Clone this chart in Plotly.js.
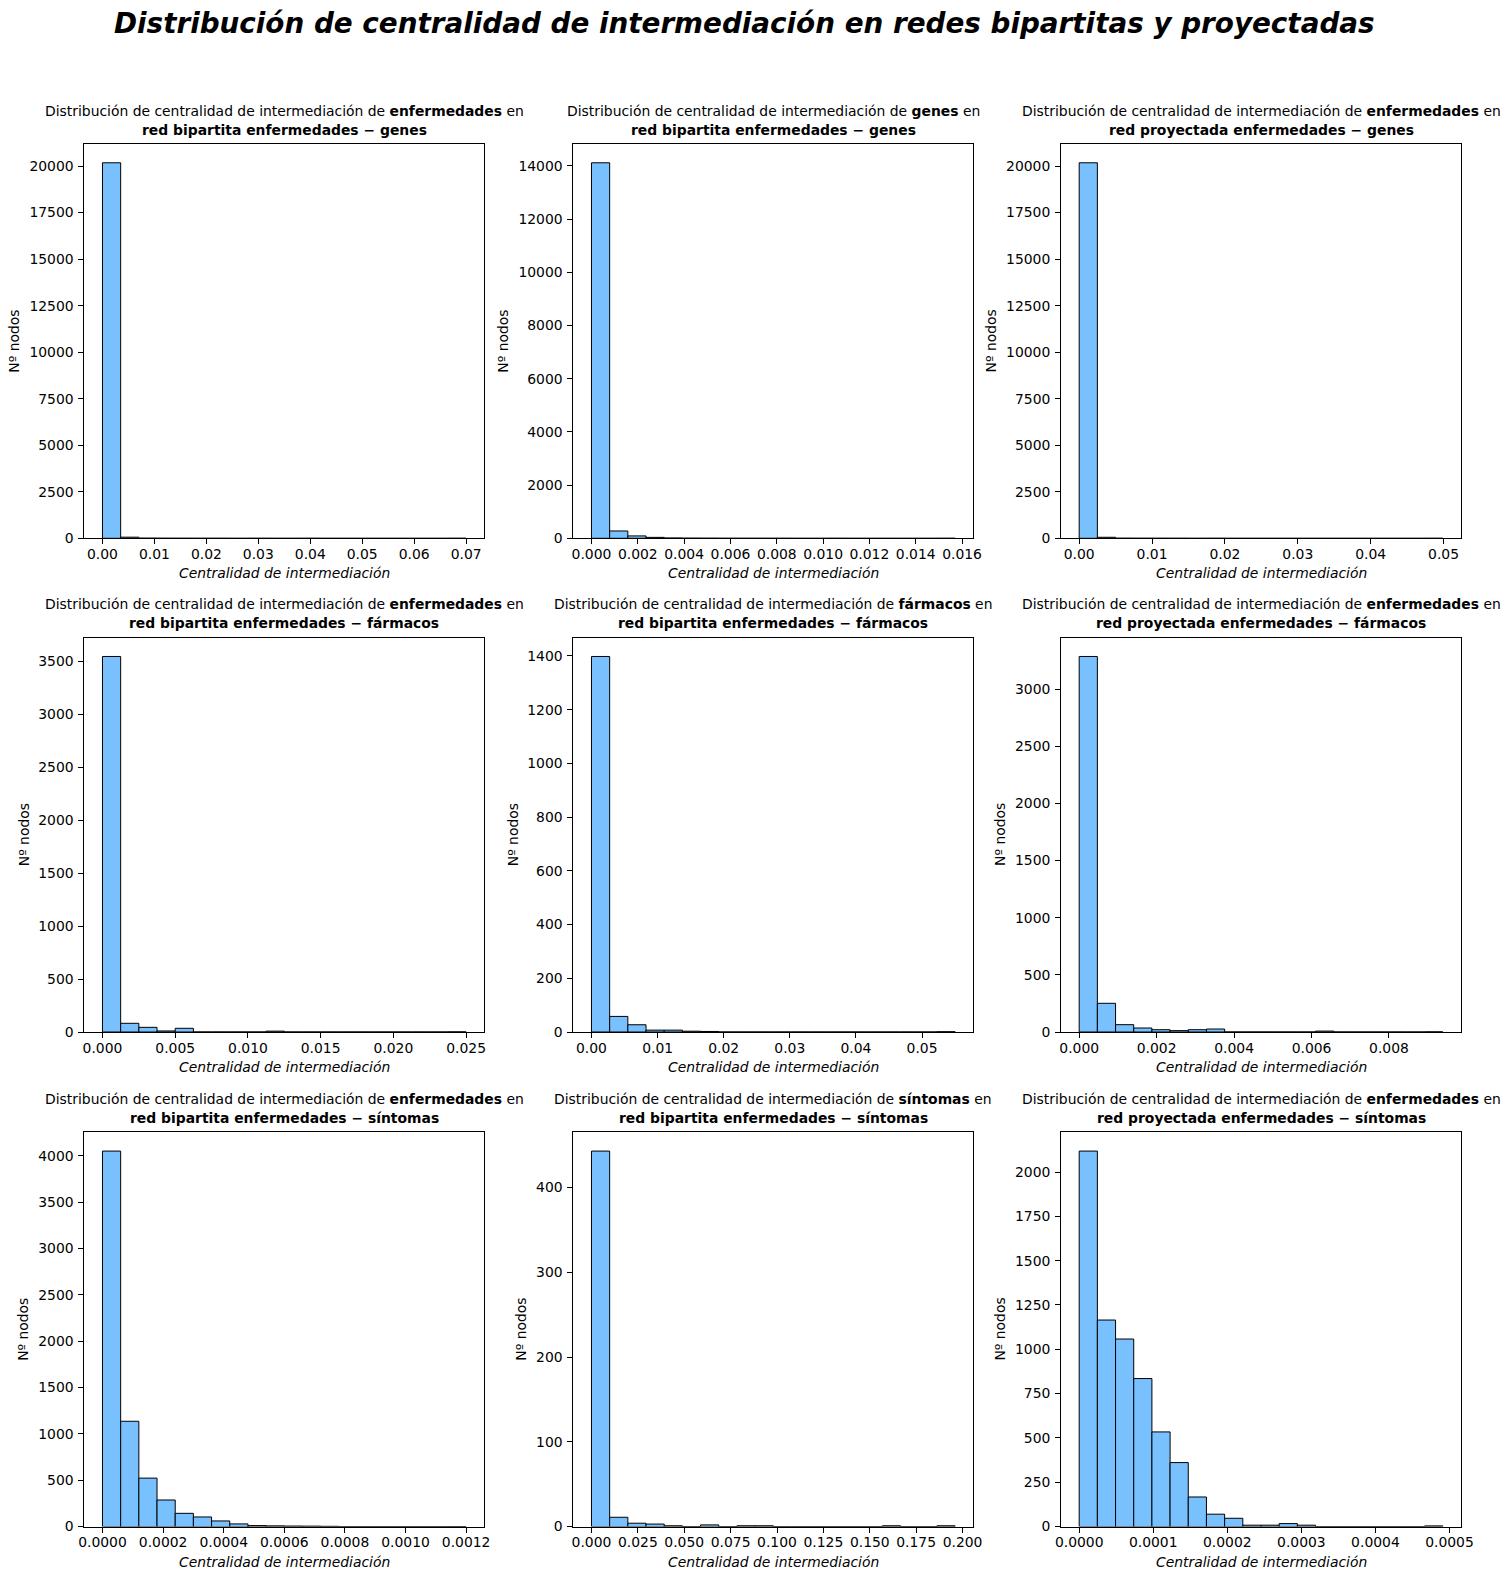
<!DOCTYPE html>
<html>
<head>
<meta charset="utf-8">
<script src="https://cdn.plot.ly/plotly-3.0.1.min.js"></script>
<style>html,body{margin:0;padding:0;background:#fff;}#chart{width:1511px;height:1580px;}</style>
</head>
<body>
<div id="chart"></div>
<script>
// ---- Data ----
const figTitle = "Distribución de centralidad de intermediación en redes bipartitas y proyectadas";
const nodeTypes = ["enfermedades", "genes", "enfermedades", "enfermedades", "fármacos", "enfermedades", "enfermedades", "síntomas", "enfermedades"];
const networks = ["red bipartita enfermedades − genes", "red bipartita enfermedades − genes", "red proyectada enfermedades − genes",
                  "red bipartita enfermedades − fármacos", "red bipartita enfermedades − fármacos", "red proyectada enfermedades − fármacos",
                  "red bipartita enfermedades − síntomas", "red bipartita enfermedades − síntomas", "red proyectada enfermedades − síntomas"];
// upper edge of the last bin (lower edge is 0), 20 bins each
const binMax = [0.070, 0.0157, 0.0499, 0.025, 0.055, 0.00939, 0.0012, 0.196, 0.000491];
const counts1 = [20175, 60, 8, 4, 2, 1, 1, 0, 1, 0, 0, 1, 0, 0, 0, 0, 0, 0, 0, 1];
const counts2 = [14115, 275, 90, 35, 12, 6, 4, 2, 1, 1, 1, 0, 0, 1, 0, 0, 0, 0, 0, 1];
const counts3 = [20175, 55, 6, 3, 2, 1, 0, 1, 0, 0, 0, 0, 0, 0, 0, 0, 0, 0, 0, 1];
const counts4 = [3545, 82, 44, 10, 35, 0, 0, 0, 0, 8, 0, 0, 0, 0, 0, 0, 0, 0, 0, 1];
const counts5 = [1398, 58, 27, 7, 7, 3, 2, 0, 0, 0, 0, 0, 0, 0, 0, 0, 0, 0, 0, 1];
const counts6 = [3285, 251, 64, 35, 20, 12, 20, 26, 0, 0, 0, 0, 0, 8, 0, 0, 0, 0, 0, 1];
const counts7 = [4050, 1136, 523, 287, 143, 104, 61, 29, 11, 8, 6, 5, 3, 0, 0, 0, 0, 0, 0, 1];
const counts8 = [443, 11, 4, 3, 1, 0, 2, 0, 1, 1, 0, 0, 0, 0, 0, 0, 1, 0, 0, 1];
const counts9 = [2118, 1165, 1058, 835, 534, 361, 167, 70, 47, 8, 8, 17, 8, 0, 0, 0, 0, 0, 0, 4];
const allCounts = [counts1, counts2, counts3, counts4, counts5, counts6, counts7, counts8, counts9];
// tick labels
const xTickStep = [0.01, 0.002, 0.01, 0.005, 0.01, 0.002, 0.0002, 0.025, 0.0001];
const xTickFormat = [".2f", ".3f", ".2f", ".3f", ".2f", ".3f", ".4f", ".3f", ".4f"];
const yTickStep = [2500, 2000, 2500, 500, 200, 500, 500, 100, 250];
const xLabel = "Centralidad de intermediación";
const yLabel = "Nº nodos";

// ---- Layout geometry (px) ----
const W = 1511, H = 1580;
const colLeft = [84.3, 573.3, 1061];
const rowTop = [144, 637.7, 1132.3];
const PW = 400, PH = 394.3;
const FONT = "DejaVu Sans";
const barColor = "#79c1fe";

const traces = [];
const layout = {
  width: W, height: H,
  margin: {l: 0, r: 0, t: 0, b: 0},
  paper_bgcolor: "#fff", plot_bgcolor: "#fff",
  showlegend: false,
  font: {family: FONT, size: 13.9, color: "#000"},
  annotations: []
};

for (let k = 0; k < 9; k++) {
  const r = Math.floor(k / 3), c = k % 3;
  const suf = k === 0 ? "" : String(k + 1);
  const L = colLeft[c], T = rowTop[r];
  const R = binMax[k], bw = R / 20;
  const cnt = allCounts[k];
  const xs = cnt.map((_, i) => (i + 0.5) * bw);
  traces.push({
    type: "bar", x: xs, y: cnt, width: cnt.map(() => bw),
    xaxis: "x" + suf, yaxis: "y" + suf,
    marker: {color: barColor, line: {color: "#000", width: 1}},
    hoverinfo: "x+y"
  });
  const maxC = Math.max(...cnt);
  const axCommon = {
    showline: true, mirror: true, linecolor: "#000", linewidth: 1,
    ticks: "outside", ticklen: 4.9, tickwidth: 1, tickcolor: "#000",
    showgrid: false, zeroline: false,
    tickfont: {family: FONT, size: 13.9, color: "#000"}
  };
  layout["xaxis" + suf] = Object.assign({}, axCommon, {
    domain: [L / W, (L + PW) / W],
    anchor: "y" + suf,
    range: [-0.05 * R, 1.05 * R],
    tick0: 0, dtick: xTickStep[k], tickformat: xTickFormat[k],
    ticklabelstandoff: -2
  });
  layout["yaxis" + suf] = Object.assign({}, axCommon, {
    domain: [1 - (T + PH) / H, 1 - T / H],
    anchor: "x" + suf,
    range: [0, 1.05 * maxC],
    tick0: 0, dtick: yTickStep[k], tickformat: "d",
    ticklabelstandoff: 2
  });
  const cx = (L + PW / 2) / W;
  // subplot title (two lines)
  layout.annotations.push({
    xref: "paper", yref: "paper", x: cx, y: 1 - (T - 33.5) / H,
    xanchor: "center", yanchor: "middle", showarrow: false,
    text: "Distribución de centralidad de intermediación de <b>" + nodeTypes[k] + "</b> en",
    font: {family: FONT, size: 13.9, color: "#000"}
  });
  layout.annotations.push({
    xref: "paper", yref: "paper", x: cx, y: 1 - (T - 14.3) / H,
    xanchor: "center", yanchor: "middle", showarrow: false,
    text: "<b>" + networks[k] + "</b>",
    font: {family: FONT, size: 13.9, color: "#000"}
  });
  // x label
  layout.annotations.push({
    xref: "paper", yref: "paper", x: cx, y: 1 - (T + PH + 35) / H,
    xanchor: "center", yanchor: "middle", showarrow: false,
    text: "<i>" + xLabel + "</i>",
    font: {family: FONT, size: 13.9, color: "#000"}
  });
  // y label, offset by the widest tick label
  let topTick = Math.floor(1.05 * maxC / yTickStep[k]) * yTickStep[k];
  const nDig = String(topTick).length;
  layout.annotations.push({
    xref: "paper", yref: "paper", x: (L - (25.5 + 8.85 * nDig)) / W, y: 1 - (T + PH / 2) / H,
    xanchor: "center", yanchor: "middle", showarrow: false, textangle: -90,
    text: yLabel,
    font: {family: FONT, size: 13.9, color: "#000"}
  });
}

layout.annotations.push({
  xref: "paper", yref: "paper", x: 744 / W, y: 1 - 24 / H,
  xanchor: "center", yanchor: "middle", showarrow: false,
  text: "<b><i>" + figTitle + "</i></b>",
  font: {family: FONT, size: 27.8, color: "#000"}
});

Plotly.newPlot("chart", traces, layout, {displayModeBar: false, staticPlot: true});
</script>
</body>
</html>
